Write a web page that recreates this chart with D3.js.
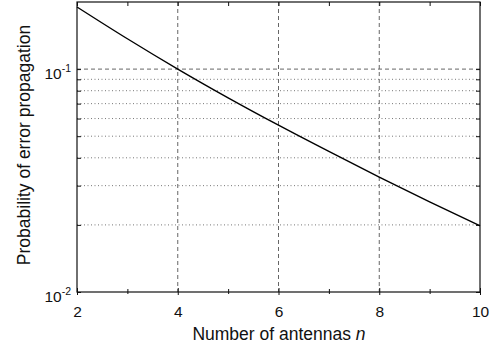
<!DOCTYPE html>
<html>
<head>
<meta charset="utf-8">
<script src="https://cdn.jsdelivr.net/npm/d3@7/dist/d3.min.js"></script>
<style>
  html, body { margin: 0; padding: 0; background: #fff; }
  svg { display: block; font-family: "Liberation Sans", Arial, Helvetica, sans-serif; }
</style>
</head>
<body>
<svg id="chart" width="492" height="349"></svg>
<script>
// Error-propagation probability versus number of receive antennas
const antennas = [2, 3, 4, 5, 6, 7, 8, 9, 10];
const errorProb = [0.19, 0.1368, 0.1, 0.0743, 0.056, 0.0427, 0.0328, 0.0254, 0.0198];

const xMajorTicks = [2, 4, 6, 8, 10];
const xMinorTicks = [3, 5, 7, 9];
const xGridTicks = [4, 6, 8];
const yMajorTicks = [0.01, 0.1];
const yMajorExponents = ["-2", "-1"];
const yMinorTicks = [0.02, 0.03, 0.04, 0.05, 0.06, 0.07, 0.08, 0.09];
const yDashedGrid = [0.1];

const xLabel = "Number of antennas ";
const xLabelVar = "n";
const yLabel = "Probability of error propagation";

const plotLeft = 77, plotRight = 480, plotTop = 2, plotBottom = 292;

const svg = d3.select("#chart");

const x = d3.scaleLinear().domain([2, 10]).range([plotLeft, plotRight]);
const y = d3.scaleLog().domain([0.01, 0.2]).range([plotBottom, plotTop]);

// grid lines
const grid = svg.append("g");
grid.selectAll("line.vgrid").data(xGridTicks).join("line")
  .attr("class", "vgrid")
  .attr("x1", d => x(d)).attr("x2", d => x(d))
  .attr("y1", plotTop).attr("y2", plotBottom)
  .attr("stroke", "#666").attr("stroke-width", 1)
  .attr("stroke-dasharray", "4,3");
grid.selectAll("line.hdash").data(yDashedGrid).join("line")
  .attr("class", "hdash")
  .attr("x1", plotLeft).attr("x2", plotRight)
  .attr("y1", d => y(d)).attr("y2", d => y(d))
  .attr("stroke", "#666").attr("stroke-width", 1)
  .attr("stroke-dasharray", "4,3");
grid.selectAll("line.hdot").data(yMinorTicks).join("line")
  .attr("class", "hdot")
  .attr("x1", plotLeft).attr("x2", plotRight)
  .attr("y1", d => y(d)).attr("y2", d => y(d))
  .attr("stroke", "#777").attr("stroke-width", 1)
  .attr("stroke-dasharray", "1,2.5");

// axes with ticks
const tickColor = "#111";
const bottomAxis = svg.append("g").attr("transform", `translate(0,${plotBottom})`)
  .call(d3.axisBottom(x).tickValues(xMajorTicks).tickSize(-4).tickFormat(d3.format("d")));
const bottomMinor = svg.append("g").attr("transform", `translate(0,${plotBottom})`)
  .call(d3.axisBottom(x).tickValues(xMinorTicks).tickSize(-3).tickFormat(""));
const topAxis = svg.append("g").attr("transform", `translate(0,${plotTop})`)
  .call(d3.axisTop(x).tickValues(xMajorTicks.concat(xMinorTicks)).tickSize(-4).tickFormat(""));
const leftAxis = svg.append("g").attr("transform", `translate(${plotLeft},0)`)
  .call(d3.axisLeft(y).tickValues(yMajorTicks.concat(yMinorTicks)).tickSize(-4).tickFormat(""));
const rightAxis = svg.append("g").attr("transform", `translate(${plotRight},0)`)
  .call(d3.axisRight(y).tickValues(yMajorTicks.concat(yMinorTicks)).tickSize(-4).tickFormat(""));

[bottomAxis, bottomMinor, topAxis, leftAxis, rightAxis].forEach(g => {
  g.select(".domain").remove();
  g.selectAll(".tick line").attr("stroke", tickColor).attr("stroke-width", 1);
});
// outward stubs on bottom ticks
bottomAxis.selectAll(".tick line").attr("y1", 3);
bottomMinor.selectAll(".tick line").attr("y1", 2);

bottomAxis.selectAll(".tick text")
  .attr("y", 0).attr("dy", null)
  .attr("transform", "translate(0,25)")
  .attr("font-size", 15.5)
  .attr("font-family", "Liberation Sans, Arial, sans-serif")
  .attr("fill", "#111");

// y tick labels: 10 with superscript exponent
const yLab = svg.append("g");
yMajorTicks.forEach((v, i) => {
  const t = yLab.append("text")
    .attr("x", plotLeft - 6).attr("y", y(v) + 10)
    .attr("text-anchor", "end")
    .attr("font-size", 15.5).attr("fill", "#111");
  t.append("tspan").text("10");
  t.append("tspan").attr("dy", -7).attr("font-size", 10.5).text(yMajorExponents[i]);
});

// frame
svg.append("rect")
  .attr("x", plotLeft).attr("y", plotTop)
  .attr("width", plotRight - plotLeft).attr("height", plotBottom - plotTop)
  .attr("fill", "none").attr("stroke", "#111").attr("stroke-width", 1.2);

// curve
const line = d3.line().x((d, i) => x(antennas[i])).y(d => y(d)).curve(d3.curveMonotoneX);
svg.append("path")
  .datum(errorProb)
  .attr("d", line)
  .attr("fill", "none").attr("stroke", "#000").attr("stroke-width", 1.4);

// axis titles
const xt = svg.append("text")
  .attr("x", 279).attr("y", 340)
  .attr("text-anchor", "middle").attr("font-size", 17.5).attr("fill", "#111");
xt.append("tspan").text(xLabel);
xt.append("tspan").attr("font-style", "italic").text(xLabelVar);

svg.append("text")
  .attr("transform", `translate(29.5,145) rotate(-90)`)
  .attr("text-anchor", "middle").attr("font-size", 17.5).attr("fill", "#111")
  .text(yLabel);
</script>
</body>
</html>
